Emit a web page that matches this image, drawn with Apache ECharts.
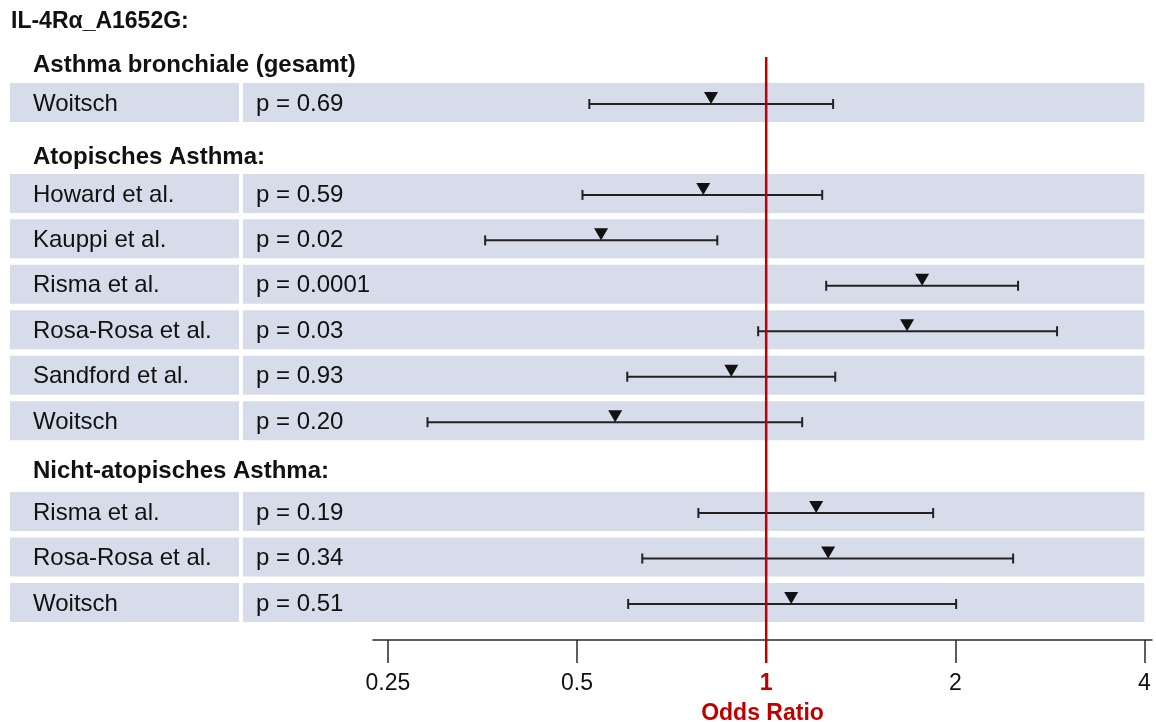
<!DOCTYPE html>
<html>
<head>
<meta charset="utf-8">
<script src="https://cdn.jsdelivr.net/npm/echarts@6/dist/echarts.min.js"></script>
<style>
  html, body { margin: 0; padding: 0; background: #ffffff; }
  #chart { width: 1156px; height: 722px; }
</style>
</head>
<body>
<div id="chart"></div>
<script>
// ---- data ----
const titleText = 'IL-4Rα_A1652G:';
const groupHeaders = ['Asthma bronchiale (gesamt)', 'Atopisches Asthma:', 'Nicht-atopisches Asthma:'];
const groupHeaderSlots = [-0.84, 1.17, 8.08];
const studies = ['Woitsch', 'Howard et al.', 'Kauppi et al.', 'Risma et al.', 'Rosa-Rosa et al.', 'Sandford et al.', 'Woitsch', 'Risma et al.', 'Rosa-Rosa et al.', 'Woitsch'];
const pValues = ['p = 0.69', 'p = 0.59', 'p = 0.02', 'p = 0.0001', 'p = 0.03', 'p = 0.93', 'p = 0.20', 'p = 0.19', 'p = 0.34', 'p = 0.51'];
const rowSlots = [0, 2, 3, 4, 5, 6, 7, 9, 10, 11];
const oddsRatio = [0.817, 0.794, 0.546, 1.771, 1.676, 0.880, 0.575, 1.201, 1.255, 1.096];
const ciLower  = [0.523, 0.510, 0.357, 1.246, 0.971, 0.601, 0.289, 0.780, 0.635, 0.603];
const ciUpper  = [1.278, 1.228, 0.836, 2.517, 2.904, 1.288, 1.141, 1.844, 2.472, 2.006];
const tickValues = [0.25, 0.5, 1, 2, 4];
const referenceOR = 1;
const axisName = 'Odds Ratio';

// ---- helpers ----
const log2 = v => Math.log(v) / Math.LN2;
const FONT = "'Liberation Sans', Arial, Helvetica, sans-serif";
const RED = '#c00000';
const BAND = '#d6dce9';
const INK = '#111111';

const yMin = -1.034, yMax = 11.793;
const xMin = -2.079, xMax = 2.04;

const rowData = rowSlots.map((s, i) => [s, i]);
const forestData = rowSlots.map((s, i) => [log2(ciLower[i]), log2(oddsRatio[i]), log2(ciUpper[i]), s]);
const headerData = groupHeaderSlots.map((s, i) => [s, i]);
const tickLog = tickValues.map(log2);

const chart = echarts.init(document.getElementById('chart'), null, { renderer: 'canvas' });

chart.setOption({
  animation: false,
  backgroundColor: '#ffffff',
  title: {
    text: titleText,
    left: 11, top: 10, padding: 0,
    textStyle: { fontFamily: FONT, fontSize: 23, fontWeight: 'bold', color: INK }
  },
  grid: { left: 373, right: 4, top: 57, bottom: 82, containLabel: false, outerBoundsMode: 'none' },
  xAxis: {
    type: 'value', min: xMin, max: xMax, position: 'bottom',
    splitLine: { show: false },
    axisLine: { show: true, onZero: false, lineStyle: { color: '#2a2a2a', width: 1.5 } },
    axisTick: { show: true, customValues: tickLog, length: 23, lineStyle: { color: '#2a2a2a', width: 1.5 } },
    axisLabel: {
      show: true, customValues: tickLog, margin: 32,
      fontFamily: FONT, fontSize: 23, color: INK,
      formatter: function (v) {
        const val = Math.pow(2, v);
        const txt = String(Math.round(val * 100) / 100);
        return Math.abs(val - referenceOR) < 1e-6 ? '{r|' + txt + '}' : txt;
      },
      rich: { r: { color: RED, fontWeight: 'bold', fontFamily: FONT, fontSize: 23 } }
    },
    name: axisName, nameLocation: 'middle', nameGap: 62,
    nameTextStyle: { fontFamily: FONT, fontSize: 23, fontWeight: 'bold', color: RED }
  },
  yAxis: { type: 'value', inverse: true, min: yMin, max: yMax, show: false },
  series: [
    {
      type: 'custom', name: 'rows', clip: false, z: 1,
      data: rowData,
      renderItem: function (params, api) {
        const slot = api.value(0), idx = api.value(1);
        const y = api.coord([0, slot])[1];
        const xRight = api.coord([log2(4), slot])[0];
        return {
          type: 'group',
          children: [
            { type: 'rect', shape: { x: 10, y: y - 21, width: 229, height: 39 }, style: { fill: BAND } },
            { type: 'rect', shape: { x: 243, y: y - 21, width: xRight - 243, height: 39 }, style: { fill: BAND } },
            { type: 'text', x: 33, y: y, style: { text: studies[idx], fill: INK, font: '24px ' + FONT, verticalAlign: 'middle', align: 'left' } },
            { type: 'text', x: 256, y: y, style: { text: pValues[idx], fill: INK, font: '24px ' + FONT, verticalAlign: 'middle', align: 'left' } }
          ]
        };
      }
    },
    {
      type: 'custom', name: 'headers', clip: false, z: 1,
      data: headerData,
      renderItem: function (params, api) {
        const slot = api.value(0), idx = api.value(1);
        const y = api.coord([0, slot])[1];
        return { type: 'text', x: 33, y: y, style: { text: groupHeaders[idx], fill: INK, font: 'bold 24px ' + FONT, verticalAlign: 'middle', align: 'left' } };
      }
    },
    {
      type: 'custom', name: 'forest', clip: false, z: 3,
      data: forestData,
      renderItem: function (params, api) {
        const slot = api.value(3);
        const pLo = api.coord([api.value(0), slot]);
        const pOr = api.coord([api.value(1), slot]);
        const pHi = api.coord([api.value(2), slot]);
        const y = pOr[1];
        const ls = { stroke: '#222222', lineWidth: 2 };
        return {
          type: 'group',
          children: [
            { type: 'line', shape: { x1: pLo[0], y1: y, x2: pHi[0], y2: y }, style: ls },
            { type: 'line', shape: { x1: pLo[0], y1: y - 5, x2: pLo[0], y2: y + 5 }, style: ls },
            { type: 'line', shape: { x1: pHi[0], y1: y - 5, x2: pHi[0], y2: y + 5 }, style: ls },
            { type: 'polygon', shape: { points: [[pOr[0] - 7, y - 12], [pOr[0] + 7, y - 12], [pOr[0], y]] }, style: { fill: '#111111' } }
          ]
        };
      }
    },
    {
      type: 'custom', name: 'reference', clip: false, z: 4,
      data: [[log2(referenceOR)]],
      renderItem: function (params, api) {
        const top = api.coord([api.value(0), yMin]);
        const bot = api.coord([api.value(0), yMax]);
        return { type: 'line', shape: { x1: top[0], y1: top[1], x2: bot[0], y2: bot[1] + 23 }, style: { stroke: RED, lineWidth: 2.5 } };
      }
    }
  ]
});
</script>
</body>
</html>
